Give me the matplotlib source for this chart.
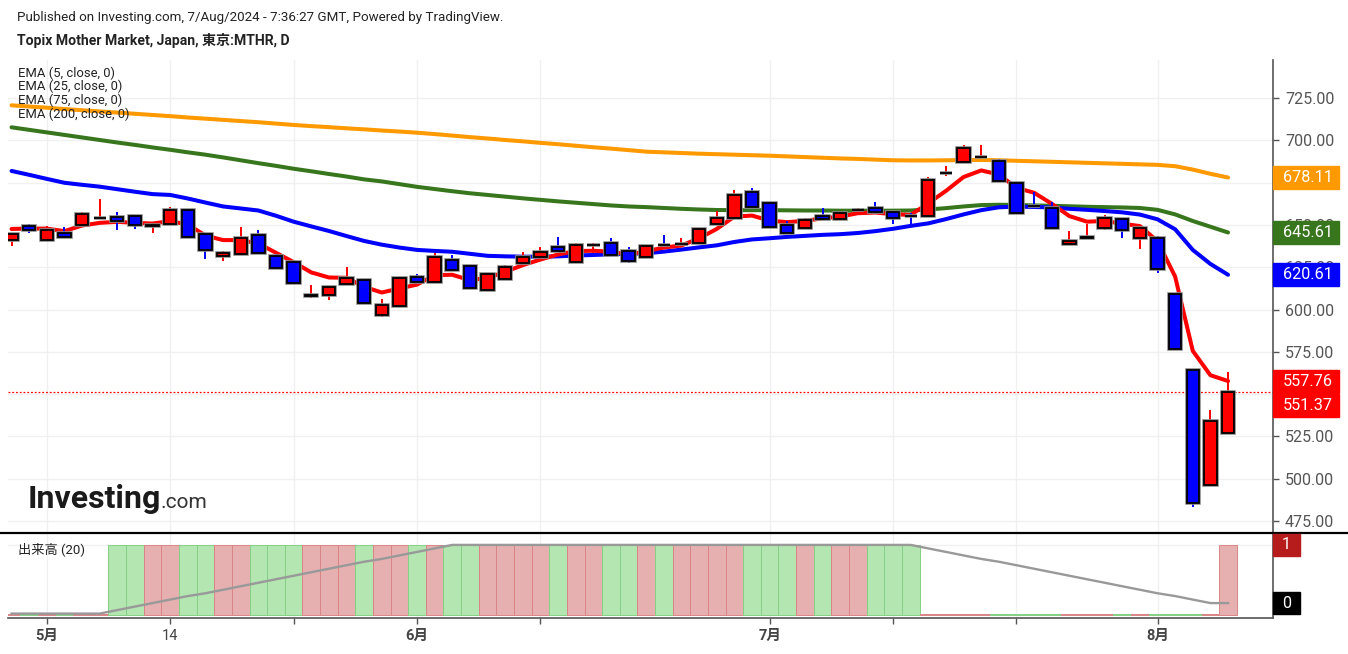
import numpy as np
import matplotlib
matplotlib.use("Agg")
import matplotlib.pyplot as plt
from matplotlib.lines import Line2D
from matplotlib.patches import Rectangle
from matplotlib import patheffects

plt.rcParams['font.family'] = ['Roboto', 'Noto Sans CJK JP', 'DejaVu Sans']

# 70 daily sessions, 26/Apr/2024 .. 7/Aug/2024 (index = session number)
tick_pos = [2, 9, 16, 23, 30, 43, 50, 57, 65]
tick_labels = ["5月", "14", "", "6月", "", "7月", "", "", "8月"]

opens = [641.1, 649.7, 641.1, 645.4, 649.9, 654.1, 654.6, 655.6, 649.7, 650.9,
         658.9, 645.0, 631.7, 632.6, 644.0, 631.7, 628.1, 608.2, 608.9, 615.2,
         617.5, 596.7, 602.2, 619.4, 616.4, 629.2, 625.7, 611.5, 618.0, 627.7,
         631.2, 637.3, 627.9, 638.0, 639.1, 634.6, 631.3, 638.2, 638.6, 639.2,
         650.7, 654.4, 669.8, 663.3, 650.1, 648.1, 655.6, 653.4, 658.9, 660.0,
         658.0, 655.3, 655.2, 680.7, 687.5, 690.2, 687.8, 675.0, 661.5, 660.2,
         638.6, 642.6, 648.4, 653.7, 642.1, 642.1, 609.4, 564.4, 496.2, 527.0]
highs = [645.5, 650.7, 649.3, 648.7, 657.7, 665.6, 657.7, 655.8, 650.2, 660.5,
         659.2, 645.3, 634.6, 648.7, 646.8, 633.0, 628.5, 614.4, 613.8, 625.3,
         618.0, 606.1, 619.2, 620.9, 633.2, 632.2, 626.0, 621.6, 626.3, 634.2,
         637.1, 643.0, 639.5, 639.1, 642.1, 637.1, 638.0, 644.2, 642.2, 648.5,
         658.4, 670.8, 671.8, 663.6, 652.1, 654.0, 660.3, 658.0, 660.3, 663.9,
         658.3, 657.4, 678.7, 685.0, 697.5, 697.6, 688.8, 675.3, 669.5, 663.8,
         646.4, 650.4, 655.7, 654.0, 648.6, 643.3, 609.6, 564.6, 540.7, 563.2]
lows = [637.5, 645.4, 640.8, 642.4, 649.5, 653.8, 647.3, 647.9, 645.4, 650.7,
        642.7, 629.7, 628.7, 632.3, 633.0, 624.0, 615.5, 606.8, 605.6, 614.9,
        603.6, 595.9, 602.0, 616.0, 616.0, 623.0, 612.2, 611.2, 617.7, 627.4,
        631.0, 634.3, 627.6, 633.2, 632.0, 627.7, 631.0, 637.7, 637.7, 639.0,
        650.5, 654.0, 660.2, 648.6, 645.2, 647.8, 653.0, 653.0, 656.4, 656.4,
        650.7, 649.5, 655.0, 679.1, 687.2, 689.8, 675.5, 657.0, 660.6, 648.0,
        638.3, 642.1, 647.2, 642.1, 635.6, 621.8, 576.4, 483.5, 496.0, 526.8]
closes = [645.0, 647.3, 646.8, 643.0, 656.6, 654.3, 652.6, 650.1, 649.8, 658.9,
          643.0, 635.0, 633.4, 642.1, 633.4, 624.4, 615.8, 608.4, 613.5, 618.8,
          604.0, 602.8, 618.9, 616.4, 631.0, 623.3, 612.5, 621.3, 624.9, 631.0,
          634.0, 634.6, 638.1, 638.2, 632.2, 628.6, 637.4, 638.0, 638.8, 647.5,
          654.4, 667.8, 660.5, 648.9, 645.5, 652.7, 653.4, 657.4, 659.1, 657.6,
          654.4, 655.1, 676.7, 680.9, 695.6, 690.4, 675.8, 657.3, 661.3, 648.4,
          640.5, 642.8, 654.3, 646.8, 648.4, 623.8, 576.6, 485.4, 534.2, 551.37]

ema5 = [647.7, 647.9, 647.9, 646.4, 649.7, 651.3, 651.9, 651.3, 650.9, 652.3,
        650.3, 643.8, 641.1, 641.1, 639.1, 633.6, 628.1, 622.0, 619.0, 618.8,
        613.5, 610.1, 612.5, 614.8, 620.4, 620.6, 617.4, 618.8, 622.3, 626.3,
        629.6, 632.6, 634.6, 634.8, 634.2, 632.6, 634.5, 636.7, 637.9, 642.2,
        647.7, 655.0, 655.6, 652.6, 651.7, 652.5, 654.0, 655.0, 657.0, 657.4,
        656.4, 656.0, 662.9, 670.2, 678.4, 682.3, 679.9, 672.0, 669.1, 662.6,
        655.3, 652.0, 652.4, 650.8, 649.4, 640.5, 619.5, 575.6, 561.2, 557.76]
ema25 = [682.0, 679.7, 677.3, 675.0, 673.8, 672.7, 671.2, 669.7, 668.3, 667.8,
         665.7, 663.3, 661.0, 659.8, 658.6, 655.5, 652.0, 649.2, 646.5, 643.5,
         640.6, 638.4, 636.7, 635.3, 634.7, 634.2, 633.0, 631.8, 631.5, 631.3,
         631.3, 631.5, 632.0, 632.3, 632.7, 633.0, 633.3, 634.3, 635.5, 636.8,
         638.0, 640.0, 641.5, 642.2, 643.0, 643.6, 644.2, 644.6, 645.3, 646.4,
         647.8, 649.5, 651.0, 653.5, 656.3, 658.8, 660.5, 660.9, 660.7, 660.4,
         659.6, 659.0, 658.3, 657.5, 656.2, 653.4, 647.5, 635.3, 627.0, 620.61]
ema75 = [707.8, 706.3, 704.8, 703.3, 701.8, 700.3, 698.8, 697.4, 695.9, 694.5,
         693.0, 691.6, 690.0, 688.3, 686.6, 685.0, 683.3, 681.8, 680.2, 678.7,
         677.0, 675.8, 674.2, 672.6, 671.3, 670.0, 668.8, 667.8, 666.8, 665.8,
         664.9, 664.0, 663.2, 662.4, 661.6, 661.0, 660.6, 660.1, 659.6, 659.2,
         658.9, 658.8, 658.8, 658.8, 658.7, 658.6, 658.6, 658.5, 658.5, 658.5,
         658.5, 658.6, 659.2, 660.0, 661.0, 661.8, 662.0, 661.9, 661.6, 661.4,
         661.1, 660.8, 660.6, 660.4, 660.1, 659.0, 656.3, 652.4, 649.0, 645.61]
ema200 = [720.8, 720.1, 719.4, 718.6, 717.9, 717.2, 716.5, 715.8, 715.1, 714.4,
          713.6, 712.9, 712.2, 711.5, 710.8, 710.0, 709.2, 708.5, 707.9, 707.2,
          706.6, 705.9, 705.3, 704.6, 703.8, 702.9, 702.0, 701.2, 700.3, 699.5,
          698.6, 697.8, 696.9, 696.0, 695.2, 694.3, 693.4, 693.0, 692.6, 692.2,
          691.9, 691.6, 691.3, 691.0, 690.6, 690.2, 689.8, 689.4, 689.1, 688.7,
          688.3, 688.2, 688.2, 688.3, 688.4, 688.5, 688.3, 688.0, 687.7, 687.4,
          687.1, 686.8, 686.5, 686.2, 685.9, 685.6, 684.8, 682.8, 680.3, 678.11]

volume = [0.02, 0.02, 0.02, 0.02, 0.02, 0.02, 1, 1, 1, 1,
          1, 1, 1, 1, 1, 1, 1, 1, 1, 1,
          1, 1, 1, 1, 1, 1, 1, 1, 1, 1,
          1, 1, 1, 1, 1, 1, 1, 1, 1, 1,
          1, 1, 1, 1, 1, 1, 1, 1, 1, 1,
          1, 1, 0.02, 0.02, 0.02, 0.02, 0.02, 0.02, 0.02, 0.02,
          0.02, 0.02, 0.02, 0.02, 0.02, 0.02, 0.02, 0.02, 0.02, 1]
vol_ma = [0.02, 0.02, 0.02, 0.02, 0.02, 0.02, 0.07, 0.12, 0.17, 0.22,
          0.27, 0.31, 0.36, 0.41, 0.46, 0.51, 0.56, 0.61, 0.66, 0.71,
          0.76, 0.80, 0.85, 0.90, 0.95, 1.0, 1.0, 1.0, 1.0, 1.0,
          1.0, 1.0, 1.0, 1.0, 1.0, 1.0, 1.0, 1.0, 1.0, 1.0,
          1.0, 1.0, 1.0, 1.0, 1.0, 1.0, 1.0, 1.0, 1.0, 1.0,
          1.0, 1.0, 0.95, 0.90, 0.85, 0.80, 0.76, 0.71, 0.66, 0.61,
          0.56, 0.51, 0.46, 0.41, 0.36, 0.31, 0.27, 0.22, 0.17, 0.17]

W, H = 1348, 654
UP, DOWN = "#ff0000", "#0000ff"
GRID = "#f0f0f0"
AXC = "#555555"


def fy(py):
    return 1 - py / H


x = np.arange(len(closes))
o = np.array(opens)
c = np.array(closes)
is_up = c >= o
body_col = np.where(is_up, UP, DOWN)

fig = plt.figure(figsize=(W / 100, H / 100), dpi=100)
ax = fig.add_axes([8 / W, fy(533), 1265 / W, 473 / H])
axv = fig.add_axes([8 / W, fy(618), 1265 / W, 85 / H])

# --- price panel ---
ax.set_xlim(-0.2, 71.55)
ax.set_ylim(467.9, 747.6)
ax.set_yticks(np.arange(475, 726, 25))
ax.set_xticks(tick_pos)
ax.grid(color=GRID, lw=1, zorder=0)
ax.set_axisbelow(True)
ax.yaxis.tick_right()
# 675 and 550 sit completely under the value tags, as in the original
ax.yaxis.set_major_formatter(matplotlib.ticker.FuncFormatter(
    lambda v, pos: "" if round(v) in (675, 550) else f"{v:.2f}"))
ax.tick_params(axis="y", length=4.3, width=1, color=AXC, labelsize=11.5,
               labelcolor=AXC, pad=4.3)
ax.tick_params(axis="x", length=0, labelbottom=False)
for s in ["top", "left", "bottom"]:
    ax.spines[s].set_visible(False)
ax.spines["right"].set_color(AXC)
ax.spines["right"].set_linewidth(1.2)

for vals, col in [(ema200, "#ff9900"), (ema75, "#38761d"),
                  (ema25, "#0000ff"), (ema5, "#ff0000")]:
    ax.plot(x, vals, color=col, lw=2.9, zorder=2, solid_capstyle="round")

ax.vlines(x, lows, highs, colors=body_col, lw=1.4, zorder=3)
bars = ax.bar(x, c - o, bottom=o, width=0.7, color=body_col,
              edgecolor="black", lw=1.3, zorder=4)
for p in bars:
    p.set_path_effects([patheffects.Stroke(linewidth=2.6, foreground="#8a8a8a"),
                        patheffects.Normal()])

ax.axhline(closes[-1], color="#ff0000", lw=0.9, ls=(0, (1.5, 1.5)), zorder=2)

# --- volume panel ---
axv.set_xlim(-0.2, 71.55)
axv.set_ylim(-0.043, 1.17)
axv.set_xticks(tick_pos)
axv.set_xticklabels(tick_labels)
axv.set_yticks([1])
axv.yaxis.tick_right()
axv.tick_params(axis="y", length=0, labelright=False)
axv.grid(color=GRID, lw=1, zorder=0)
axv.set_axisbelow(True)
axv.tick_params(axis="x", length=4.5, width=1, color=AXC, labelsize=10.5,
                labelcolor="#444444", pad=3.5)
for lab in axv.get_xticklabels():
    if "月" in lab.get_text():
        lab.set_fontweight("bold")
for s in ["top", "left"]:
    axv.spines[s].set_visible(False)
for s in ["right", "bottom"]:
    axv.spines[s].set_color(AXC)
    axv.spines[s].set_linewidth(1.2)

vface = np.where(is_up, "#e6b0b0", "#b3e6b0")
vedge = np.where(is_up, "#d98585", "#85d085")
axv.bar(x, volume, width=1.0, color=vface, edgecolor=vedge, lw=0.7, zorder=2)
axv.plot(x, vol_ma, color="#999999", lw=1.7, zorder=3)
fig.text(18 / W, fy(549), "出来高 (20)", fontsize=9.5, va="center", color="#222222")

# separator between panels
fig.add_artist(Line2D([0, 1], [fy(533)] * 2, transform=fig.transFigure,
                      color="black", lw=1.6))


# --- value tags on the right axis ---
def tag(axis, val, text, col, dy=0, w=66, h=23, tx=10):
    yc = axis.transData.transform((0, val))[1] - dy
    xr = axis.transAxes.transform((1, 0))[0]
    fig.add_artist(Rectangle((xr / W, (yc - h / 2) / H), w / W, h / H,
                             transform=fig.transFigure, color=col, zorder=6))
    fig.text((xr + tx) / W, yc / H, text, color="white", fontsize=11.7,
             va="center", ha="left", zorder=7)


tag(ax, ema200[-1], f"{ema200[-1]:.2f}", "#ff9900")
tag(ax, ema75[-1], f"{ema75[-1]:.2f}", "#38761d")
tag(ax, ema25[-1], f"{ema25[-1]:.2f}", "#0000ff")
tag(ax, ema5[-1], f"{ema5[-1]:.2f}", "#ff0000")
tag(ax, closes[-1], f"{closes[-1]:.2f}", "#ff0000", dy=14)
tag(axv, volume[-1], f"{volume[-1]:.0f}", "#b71c1c", w=27, h=22, tx=9)
tag(axv, vol_ma[-1], f"{vol_ma[-1]:.0f}", "black", w=27, h=22, tx=9)

# --- legend & header ---
for k, name in enumerate(["EMA (5, close, 0)", "EMA (25, close, 0)",
                          "EMA (75, close, 0)", "EMA (200, close, 0)"]):
    fig.text(18 / W, fy(73 + k * 13.7), name, fontsize=9.4, va="center",
             color="#222222")

fig.text(17 / W, fy(17), "Published on Investing.com, 7/Aug/2024 - 7:36:27 GMT, "
         "Powered by TradingView.", fontsize=9.6, va="center", color="#222222")
fig.text(17 / W, fy(40), "Topix Mother Market, Japan, 東京:MTHR, D", fontsize=10.1,
         fontweight="bold", va="center", color="#222222")

fig.text(28 / W, fy(508), "Investing", fontsize=23, fontweight="bold",
         va="baseline", color="#1a1a1a")
fig.text(160 / W, fy(508), ".com", fontsize=15, va="baseline", color="#333333")

fig.savefig("out.png", dpi=100)
